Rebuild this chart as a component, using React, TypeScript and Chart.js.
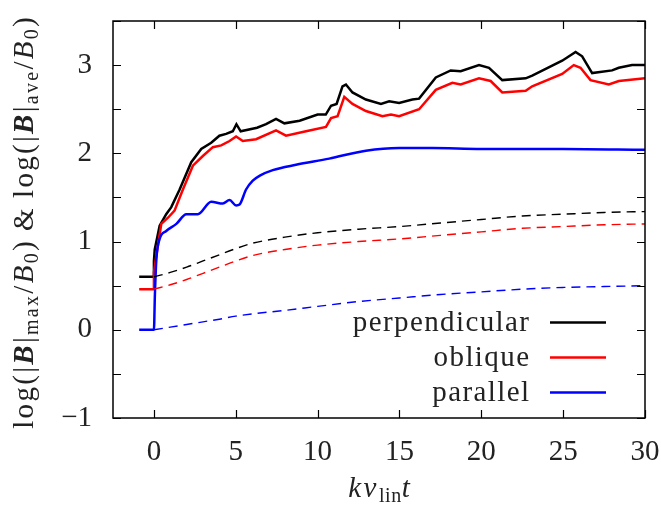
import React, { useEffect, useRef } from "react";
import { Chart, registerables } from "chart.js";

Chart.register(...registerables);

// ---- data ----
const perpT = [-0.9, -0.05, 0.0, 0.05, 0.35, 0.75, 1.06, 1.57, 2.28, 2.89, 3.5, 4.0, 4.41, 4.82, 5.04, 5.3, 6.3, 6.85, 7.46, 7.97, 8.9, 10.0, 10.5, 10.82, 11.16, 11.52, 11.73, 12.13, 12.95, 13.87, 14.37, 14.98, 15.79, 16.2, 17.22, 18.13, 18.74, 19.86, 20.47, 21.28, 22.71, 23.11, 24.94, 25.76, 26.16, 26.77, 27.99, 28.4, 29.21, 30];
const perpMax = [0.6, 0.6, 0.78, 0.91, 1.18, 1.31, 1.39, 1.59, 1.9, 2.05, 2.12, 2.2, 2.22, 2.25, 2.33, 2.25, 2.29, 2.33, 2.39, 2.34, 2.37, 2.44, 2.44, 2.54, 2.56, 2.76, 2.78, 2.69, 2.61, 2.56, 2.59, 2.57, 2.61, 2.62, 2.86, 2.94, 2.93, 3.0, 2.97, 2.83, 2.85, 2.88, 3.05, 3.15, 3.1, 2.91, 2.94, 2.97, 3.0, 3.0];

const oblT = [-0.9, -0.05, 0.0, 0.15, 0.45, 0.86, 1.26, 1.77, 2.38, 2.99, 3.6, 4.11, 4.62, 5.02, 5.43, 6.24, 7.46, 8.07, 9.29, 10.51, 10.82, 11.22, 11.63, 12.13, 12.95, 13.96, 14.48, 14.98, 16.2, 17.22, 18.23, 18.74, 19.86, 20.57, 21.28, 22.71, 23.11, 24.94, 25.65, 26.06, 26.67, 27.79, 28.4, 30];
const oblMax = [0.46, 0.46, 0.65, 0.84, 1.2, 1.27, 1.35, 1.59, 1.86, 1.97, 2.07, 2.09, 2.14, 2.19, 2.14, 2.16, 2.26, 2.2, 2.25, 2.3, 2.4, 2.42, 2.64, 2.56, 2.48, 2.42, 2.44, 2.42, 2.5, 2.72, 2.8, 2.78, 2.85, 2.82, 2.69, 2.71, 2.76, 2.9, 3.0, 2.97, 2.83, 2.78, 2.82, 2.85];

const parT = [-0.9, 0.0, 0.06, 0.15, 0.35, 0.75, 1.37, 1.98, 2.68, 3.5, 4.21, 4.62, 5.02, 5.23, 5.63, 6.04, 6.5, 7.26, 8.68, 10.71, 12.95, 14.98, 17, 20, 25, 30];
const parMax = [0, 0, 0.4, 0.8, 1.03, 1.12, 1.2, 1.31, 1.31, 1.45, 1.43, 1.47, 1.41, 1.42, 1.59, 1.69, 1.75, 1.81, 1.87, 1.94, 2.03, 2.06, 2.06, 2.05, 2.05, 2.04];

const aveT = [0, 1, 2, 3, 4, 5, 6, 8, 10, 12.5, 15, 17.5, 20, 22.5, 25, 27.5, 30];
const perpAve = [0.6, 0.65, 0.71, 0.78, 0.85, 0.92, 0.98, 1.05, 1.1, 1.14, 1.17, 1.21, 1.25, 1.29, 1.31, 1.33, 1.34];
const oblAve = [0.46, 0.51, 0.57, 0.64, 0.71, 0.78, 0.84, 0.91, 0.96, 1.0, 1.03, 1.07, 1.11, 1.15, 1.17, 1.19, 1.2];
const parAve = [0, 0.03, 0.06, 0.09, 0.12, 0.155, 0.18, 0.22, 0.265, 0.32, 0.36, 0.4, 0.43, 0.46, 0.48, 0.49, 0.5];

const xTicks = [0, 5, 10, 15, 20, 25, 30];
const yTicks = [-1, -0.5, 0, 0.5, 1, 1.5, 2, 2.5, 3, 3.5];
const legendLabels = ["perpendicular", "oblique", "parallel"];
const colors = ["#000000", "#ff0000", "#0000ff"];

const FAM = '"Liberation Serif", "Times New Roman", serif';
const TEXT = "#222";

type Seg = { t: string; f: string; dy?: number; sp?: number };

// draws a run of styled text segments, centred on cx, with explicit letter spacing
function drawRich(ctx: any, segs: Seg[], cx: number, baseline: number, sp: number) {
  ctx.letterSpacing = "0px";
  const widths = segs.map((s) => {
    ctx.font = s.f;
    const g = s.sp !== undefined ? s.sp : sp;
    return ctx.measureText(s.t).width + s.t.length * g;
  });
  const total = widths.reduce((p, w) => p + w, 0) - sp;
  let x = cx - total / 2;
  ctx.textAlign = "left";
  ctx.textBaseline = "alphabetic";
  segs.forEach((s, i) => {
    ctx.font = s.f;
    const g = s.sp !== undefined ? s.sp : sp;
    let cxp = x;
    for (const ch of s.t) {
      ctx.fillText(ch, cxp, baseline + (s.dy || 0));
      cxp += ctx.measureText(ch).width + g;
    }
    x += widths[i];
  });
}

const decorPlugin = {
  id: "decor",
  afterDraw(chart: any) {
    const { ctx, chartArea: a, scales } = chart;
    const xs = scales.x;
    const ys = scales.y;
    ctx.save();
    ctx.strokeStyle = "#000";
    ctx.lineWidth = 1.5;
    ctx.strokeRect(a.left, a.top, a.right - a.left, a.bottom - a.top);
    const L = 8;
    ctx.beginPath();
    for (const v of xTicks) {
      const px = Math.round(xs.getPixelForValue(v)) + 0.5;
      ctx.moveTo(px, a.bottom);
      ctx.lineTo(px, a.bottom - L);
      ctx.moveTo(px, a.top);
      ctx.lineTo(px, a.top + L);
    }
    for (const v of yTicks) {
      const py = Math.round(ys.getPixelForValue(v)) + 0.5;
      ctx.moveTo(a.left, py);
      ctx.lineTo(a.left + L, py);
      ctx.moveTo(a.right, py);
      ctx.lineTo(a.right - L, py);
    }
    ctx.lineWidth = 1.2;
    ctx.stroke();

    // legend
    const legX = 529;
    const lineX0 = 550;
    const lineX1 = 606;
    const rowY = [322.5, 357.5, 392.5];
    ctx.font = `29px ${FAM}`;
    ctx.letterSpacing = "1.4px";
    ctx.fillStyle = TEXT;
    ctx.textAlign = "right";
    ctx.textBaseline = "alphabetic";
    legendLabels.forEach((lab, i) => {
      ctx.fillText(lab, legX + 1.4, rowY[i] + 8);
      ctx.strokeStyle = colors[i];
      ctx.lineWidth = 2.5;
      ctx.beginPath();
      ctx.moveTo(lineX0, rowY[i]);
      ctx.lineTo(lineX1, rowY[i]);
      ctx.stroke();
    });
    ctx.letterSpacing = "0px";

    // axis titles
    ctx.fillStyle = TEXT;
    const n = `29px ${FAM}`;
    const it = `italic 29px ${FAM}`;
    const bi = `bold italic 29px ${FAM}`;
    const sb = `20px ${FAM}`;
    const xt: Seg[] = [
      { t: "kv", f: it, sp: 2.5 },
      { t: "lin", f: sb, dy: 5, sp: 0.6 },
      { t: "t", f: it },
    ];
    drawRich(ctx, xt, (a.left + a.right) / 2, 497, 1.5);

    const yt: Seg[] = [
      { t: "log(|", f: n },
      { t: "B", f: bi },
      { t: "|", f: n },
      { t: "max", f: sb, dy: 5 },
      { t: "/", f: n },
      { t: "B", f: it },
      { t: "0", f: sb, dy: 5 },
      { t: ")\u2009&\u2009log(|", f: n },
      { t: "B", f: bi },
      { t: "|", f: n },
      { t: "ave", f: sb, dy: 5 },
      { t: "/", f: n },
      { t: "B", f: it },
      { t: "0", f: sb, dy: 5 },
      { t: ")", f: n },
    ];
    ctx.save();
    ctx.translate(33, 223);
    ctx.rotate(-Math.PI / 2);
    drawRich(ctx, yt, 0, 0, 2.3);
    ctx.restore();
    ctx.letterSpacing = "0px";
    ctx.restore();
  },
};

function pts(xs: number[], ys: number[]) {
  return xs.map((x, i) => ({ x, y: ys[i] }));
}

function zeroPad(s: any) {
  s.paddingTop = 0;
  s.paddingBottom = 0;
  s.paddingLeft = 0;
  s.paddingRight = 0;
}

export default function App() {
  const ref = useRef<HTMLCanvasElement | null>(null);
  useEffect(() => {
    document.body.style.margin = "0";
    const canvas = ref.current!;
    const solid = (label: string, d: any[], c: string, smooth: boolean) => ({
      label,
      data: d,
      borderColor: c,
      backgroundColor: c,
      borderWidth: 2.5,
      pointRadius: 0,
      fill: false,
      tension: smooth ? 0.4 : 0,
      cubicInterpolationMode: smooth ? "monotone" : "default",
    });
    const dashed = (label: string, d: any[], c: string) => ({
      label,
      data: d,
      borderColor: c,
      backgroundColor: c,
      borderWidth: 1.4,
      borderDash: [9, 6],
      pointRadius: 0,
      fill: false,
      cubicInterpolationMode: "monotone",
    });
    const chart = new Chart(canvas, {
      type: "line",
      data: {
        datasets: [
          dashed("perp ave", pts(aveT, perpAve), colors[0]),
          dashed("obl ave", pts(aveT, oblAve), colors[1]),
          dashed("par ave", pts(aveT, parAve), colors[2]),
          solid(legendLabels[2], pts(parT, parMax), colors[2], true),
          solid(legendLabels[1], pts(oblT, oblMax), colors[1], false),
          solid(legendLabels[0], pts(perpT, perpMax), colors[0], false),
        ] as any,
      },
      options: {
        responsive: false,
        animation: false,
        devicePixelRatio: 1,
        layout: { padding: { top: 21, right: 16, left: 0, bottom: 0 } },
        plugins: { legend: { display: false }, tooltip: { enabled: false } },
        scales: {
          x: {
            type: "linear",
            min: -2.5,
            max: 30,
            grid: { display: false, drawTicks: false },
            border: { display: false },
            afterBuildTicks: (s: any) => {
              s.ticks = xTicks.map((v) => ({ value: v }));
            },
            afterFit: (s: any) => {
              s.height = 92;
              zeroPad(s);
            },
            ticks: {
              autoSkip: false,
              maxRotation: 0,
              padding: 17,
              color: TEXT,
              font: { family: FAM, size: 29 },
              callback: (v: any) => String(v),
            },
          },
          y: {
            type: "linear",
            min: -1,
            max: 3.5,
            grid: { display: false, drawTicks: false },
            border: { display: false },
            afterBuildTicks: (s: any) => {
              s.ticks = yTicks.map((v) => ({ value: v }));
            },
            afterFit: (s: any) => {
              s.width = 113;
              zeroPad(s);
            },
            ticks: {
              autoSkip: false,
              padding: 21,
              color: TEXT,
              font: { family: FAM, size: 29 },
              callback: (v: any) => {
                const n = Number(v);
                if (!Number.isInteger(n)) return "";
                return n < 0 ? "\u2212" + Math.abs(n) : String(n);
              },
            },
          },
        },
      },
      plugins: [decorPlugin],
    });
    return () => chart.destroy();
  }, []);
  return (
    <canvas ref={ref} width={661} height={510} style={{ display: "block" }} />
  );
}
